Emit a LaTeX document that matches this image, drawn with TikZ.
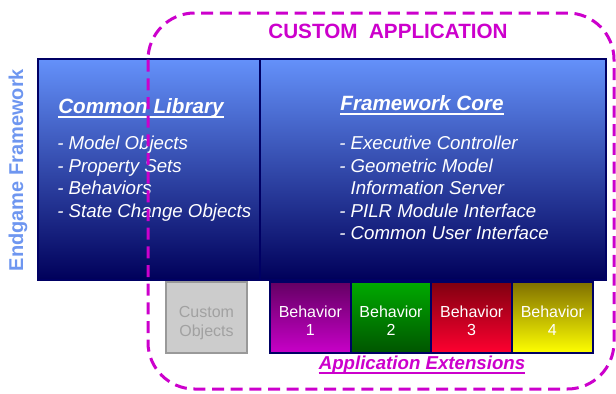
\documentclass[tikz,border=0pt]{standalone}
\usepackage{fontspec}
\setmainfont{Liberation Sans}
\usetikzlibrary{positioning}

\definecolor{navy}{RGB}{0,0,100}
\definecolor{panelTop}{RGB}{100,145,250}
\definecolor{panelBot}{RGB}{0,0,90}
\definecolor{appMagenta}{RGB}{204,0,204}
\definecolor{sideBlue}{RGB}{110,150,240}

\begin{document}
\begin{tikzpicture}[x=0.75pt, y=-0.75pt,
  panel/.style={draw=navy, line width=1.5pt, outer sep=0pt, inner sep=0pt, minimum height=165.75pt, top color=panelTop, bottom color=panelBot},
  head/.style={font=\fontsize{15.5}{18}\selectfont\bfseries\itshape, text=white, inner sep=0pt, anchor=base},
  items/.style={font=\fontsize{14}{16.9}\selectfont\itshape, text=white, align=left, inner sep=0pt, anchor=north west},
  behav/.style={draw=navy, line width=1.5pt, outer sep=0pt, minimum width=60.5pt, minimum height=53.25pt},
  behtext/.style={align=center, text=white, inner sep=0pt, font=\fontsize{12}{13.5}\selectfont},
  uline/.style={line width=1.5pt}
]
\useasboundingbox (0,0) rectangle (616,393);

% framework panels
\node[panel, minimum width=166.5pt, anchor=north west] (lib) at (38,59) {};
\node[panel, minimum width=259.5pt, right=0pt of lib] (core) {};

\node[head] (libhead) at (141,113) {Common Library};
\draw[white, uline] ([yshift=-2.7pt]libhead.base west) -- ([yshift=-2.7pt]libhead.base east);
\node[head] (corehead) at (422,110.5) {Framework Core};
\draw[white, uline] ([yshift=-2.7pt]corehead.base west) -- ([yshift=-2.7pt]corehead.base east);

\node[items] (liblist) at (57,136) {- Model Objects\\- Property Sets\\- Behaviors\\- State Change Objects};
\node[items] (corelist) at (339,136) {- Executive Controller\\- Geometric Model\\\phantom{- }Information Server\\- PILR Module Interface\\- Common User Interface};

\node[font=\fontsize{15}{18}\selectfont\bfseries, text=sideBlue, rotate=90] (fwlabel) at (18,170) {Endgame Framework};

% extensions
\node[behav, draw=black!40, fill=black!20, minimum width=60.75pt, anchor=north west] (custom) at (166,282) {};
\node[behtext, text=black!37, font=\fontsize{12}{14.25}\selectfont] (customtxt) at ([yshift=-4pt]custom.center) {Custom\\Objects};
\node[behav, top color={rgb,255:red,100;green,0;blue,100}, bottom color={rgb,255:red,200;green,0;blue,200}, anchor=north west] (beh1) at (270,282) {};
\node[behav, top color={rgb,255:red,0;green,170;blue,0}, bottom color={rgb,255:red,0;green,85;blue,0}, right=0pt of beh1] (beh2) {};
\node[behav, top color={rgb,255:red,128;green,0;blue,16}, bottom color={rgb,255:red,255;green,0;blue,48}, right=0pt of beh2] (beh3) {};
\node[behav, top color={rgb,255:red,128;green,112;blue,0}, bottom color={rgb,255:red,255;green,255;blue,0}, right=0pt of beh3] (beh4) {};
\foreach \i in {1,...,4}
  \node[behtext] (beh\i txt) at ([yshift=-2.5pt]beh\i.center) {Behavior\\\i};

\node[font=\fontsize{14}{16}\selectfont\bfseries\itshape, text=appMagenta, inner sep=0pt, anchor=base] (extlabel) at (422,369.5) {Application Extensions};
\draw[appMagenta, uline] ([yshift=-2.5pt]extlabel.base west) -- ([yshift=-2.5pt]extlabel.base east);

% custom application
\node[font=\fontsize{15.5}{18}\selectfont\bfseries, text=appMagenta, inner sep=0pt, anchor=base] (apptitle) at (388,38.5) {CUSTOM\ \ APPLICATION};
\draw[appMagenta, line width=2.25pt, dash pattern=on 9pt off 5pt, rounded corners=35pt] (148,13) rectangle (614,389);
\end{tikzpicture}
\end{document}
